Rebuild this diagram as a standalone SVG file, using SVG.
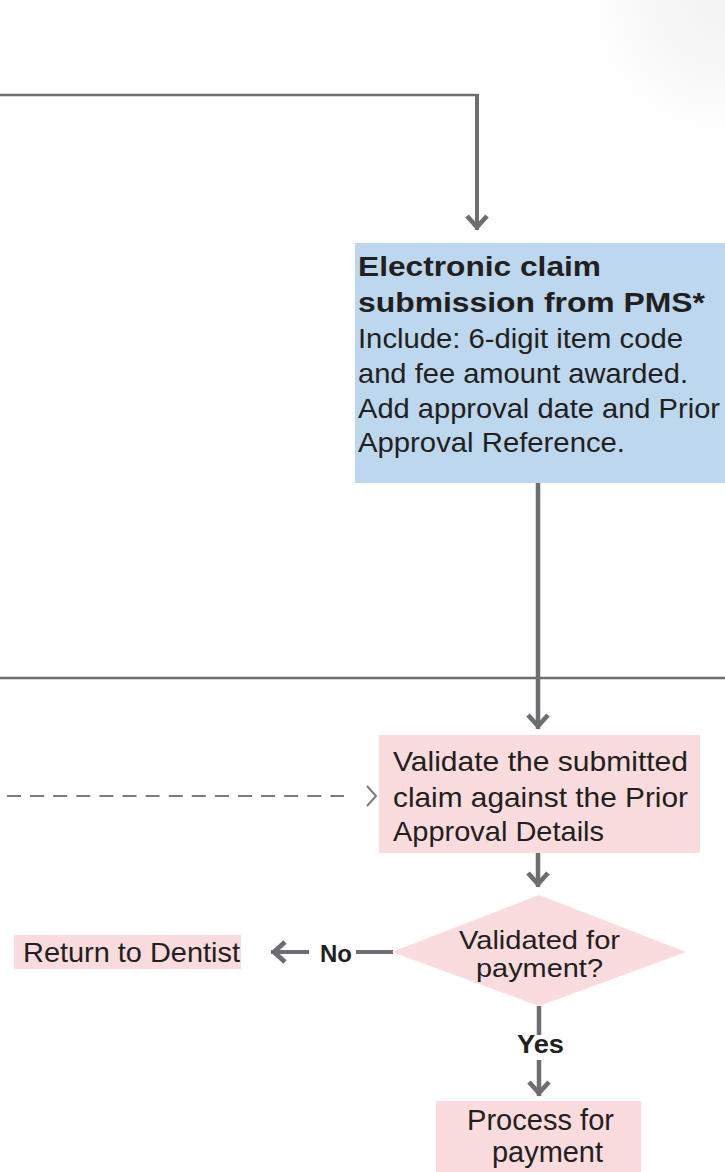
<svg xmlns="http://www.w3.org/2000/svg" width="725" height="1172" viewBox="0 0 725 1172">
<style>
.t{font-family:"Liberation Sans",Arial,sans-serif;fill:#231F20;}
.b{font-weight:bold;}
.ln{fill:none;stroke:#6D6E71;}
.blue{fill:#BDD7EE;}
.pink{fill:#FADBDE;}
</style>
<defs>
<marker id="ah" markerUnits="userSpaceOnUse" markerWidth="40" markerHeight="40" viewBox="-20 -20 40 40" refX="0" refY="0" orient="auto" overflow="visible">
<path d="M-14,-10 L-3,0 L-14,10" fill="none" stroke="#6D6E71" stroke-width="4.8" stroke-linejoin="miter"/>
</marker>
<radialGradient id="bg" cx="725" cy="0" r="170" gradientUnits="userSpaceOnUse">
<stop offset="0" stop-color="#EDEDED"/>
<stop offset="0.5" stop-color="#F6F6F6"/>
<stop offset="1" stop-color="#FFFFFF" stop-opacity="0"/>
</radialGradient>
</defs>
<rect x="0" y="0" width="725" height="1172" fill="#FFFFFF"/>
<rect x="555" y="0" width="170" height="170" fill="url(#bg)" opacity="0.7"/>

<g id="connectors">
<path class="ln" d="M0,95 H478" stroke-width="2.6"/>
<path class="ln" d="M477,94 V230" stroke-width="4" marker-end="url(#ah)"/>
<path class="ln" d="M0,678 H725" stroke-width="2.6"/>
<path class="ln" d="M538,483 V729" stroke-width="4.5" marker-end="url(#ah)"/>
<path d="M7,796 H344" fill="none" stroke="#7A7B7E" stroke-width="2.2" stroke-dasharray="14 9.1"/>
<path d="M367,786 L376,796 L367,806" fill="none" stroke="#7A7B7E" stroke-width="2"/>
<path class="ln" d="M538,853 V887" stroke-width="4.5" marker-end="url(#ah)"/>
<path class="ln" d="M393,952 H356" stroke-width="4"/>
<path class="ln" d="M309,952 H271" stroke-width="4" marker-end="url(#ah)"/>
<path class="ln" d="M539,1006 V1035" stroke-width="4.5"/>
<path class="ln" d="M539,1060 V1096" stroke-width="4.5" marker-end="url(#ah)"/>
</g>

<g id="node-electronic-claim">
<rect class="blue" x="355" y="243" width="372" height="240"/>
<text class="t b" font-size="28.5" x="358" y="276" textLength="243" lengthAdjust="spacingAndGlyphs">Electronic claim</text>
<text class="t b" font-size="28.5" x="358" y="312" textLength="347" lengthAdjust="spacingAndGlyphs">submission from PMS*</text>
<text class="t" font-size="27.5" x="358" y="348" textLength="325" lengthAdjust="spacingAndGlyphs">Include: 6-digit item code</text>
<text class="t" font-size="27.5" x="358" y="383" textLength="330" lengthAdjust="spacingAndGlyphs">and fee amount awarded.</text>
<text class="t" font-size="27.5" x="358" y="418" textLength="362" lengthAdjust="spacingAndGlyphs">Add approval date and Prior</text>
<text class="t" font-size="27.5" x="358" y="452" textLength="267" lengthAdjust="spacingAndGlyphs">Approval Reference.</text>
</g>

<g id="node-validate">
<rect class="pink" x="379" y="735" width="321" height="118"/>
<text class="t" font-size="28.5" x="393" y="771" textLength="295" lengthAdjust="spacingAndGlyphs">Validate the submitted</text>
<text class="t" font-size="28.5" x="393" y="807" textLength="295" lengthAdjust="spacingAndGlyphs">claim against the Prior</text>
<text class="t" font-size="28.5" x="393" y="841" textLength="211" lengthAdjust="spacingAndGlyphs">Approval Details</text>
</g>

<g id="node-decision">
<polygon class="pink" points="539,895 686,952 539,1006 392,952"/>
<text class="t" font-size="26.5" x="459" y="949" textLength="161" lengthAdjust="spacingAndGlyphs">Validated for</text>
<text class="t" font-size="26.5" x="476" y="977" textLength="127" lengthAdjust="spacingAndGlyphs">payment?</text>
</g>

<g id="node-return">
<rect class="pink" x="14" y="935" width="227" height="34"/>
<text class="t" font-size="28" x="23" y="962" textLength="217" lengthAdjust="spacingAndGlyphs">Return to Dentist</text>
</g>

<g id="label-no">
<text class="t b" font-size="24" x="320" y="962" textLength="32" lengthAdjust="spacingAndGlyphs">No</text>
</g>

<g id="label-yes">
<text class="t b" font-size="26" x="517" y="1053" textLength="47" lengthAdjust="spacingAndGlyphs">Yes</text>
</g>

<g id="node-process">
<rect class="pink" x="436" y="1101" width="205" height="80"/>
<text class="t" font-size="29" x="467" y="1130" textLength="147" lengthAdjust="spacingAndGlyphs">Process for</text>
<text class="t" font-size="29" x="492" y="1162" textLength="111" lengthAdjust="spacingAndGlyphs">payment</text>
</g>
</svg>
